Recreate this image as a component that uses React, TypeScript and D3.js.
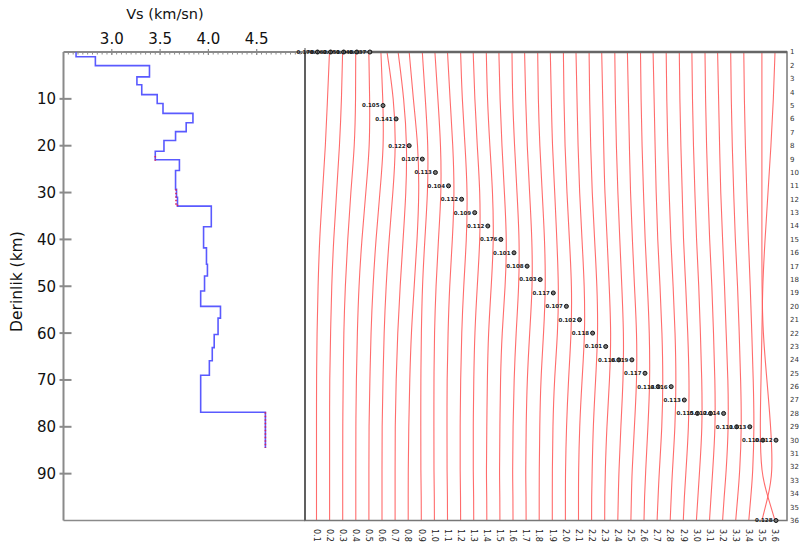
import React from 'react';
import * as d3 from 'd3';

// ---------- Left panel: Vs profile ----------
const VS_TICKS = [3.0, 3.5, 4.0, 4.5];
const VS_TICK_LABELS = ['3.0', '3.5', '4.0', '4.5'];
const DEPTH_TICKS = [10, 20, 30, 40, 50, 60, 70, 80, 90];
const DEPTH_TICK_LABELS = ['10', '20', '30', '40', '50', '60', '70', '80', '90'];

const LAYER_TOP = [0, 1.0, 2.9, 5.3, 7.0, 9.1, 11.0, 13.1, 15.1, 17.0, 18.9, 21.2, 23.0, 25.3, 29.3, 31.0, 32.9, 37.3, 41.8, 45.3, 47.8, 51.0, 54.3, 56.8, 60.3, 63.1, 65.9, 69.0, 76.9];
const LAYER_VS = [2.63, 2.83, 3.39, 3.26, 3.31, 3.47, 3.53, 3.84, 3.77, 3.66, 3.54, 3.45, 3.70, 3.66, 3.67, 3.68, 4.03, 3.95, 3.98, 3.99, 3.96, 3.92, 4.125, 4.10, 4.06, 4.04, 4.01, 3.92, 4.59];
const PROFILE_BOTTOM = 84.5;

const RED_SEG_TOP = [22.2, 29.3, 32.6, 76.9];
const RED_SEG_BOTTOM = [23.2, 32.9, 33.2, 84.5];
const RED_SEG_VS = [3.45, 3.665, 3.68, 4.59];

// ---------- Right panel: kernels ----------
const KERNEL_DEPTHS = [0, 10, 20, 30, 40, 50, 60, 70, 80, 90, 95, 100];
const KERNELS: number[][] = [
  [13, 11, 9, 6, 3, 1.5, 0.5, 0, 0, 0, 0, 0],
  [13, 12, 10, 7, 4, 2, 1, 0, 0, 0, 0, 0],
  [13, 13, 12, 8, 5, 2.5, 1, 0.5, 0, 0, 0, 0],
  [13, 14, 14, 10, 6, 3, 1.5, 0.5, 0, 0, 0, 0],
  [12, 14, 15, 11, 7, 4, 2, 1, 0, 0, 0, 0],
  [5, 12, 14, 11, 7, 4, 2, 1, 0, 0, 0, 0],
  [3, 9, 12, 11, 8, 5, 2.5, 1, 0, 0, 0, 0],
  [1, 5, 10, 11, 9, 6, 3, 1.5, 0.5, 0, 0, 0],
  [1, 4, 7, 6.5, 3.5, 1, 0, -0.5, -0.5, -0.5, 0, 0],
  [0.5, 3.5, 6.5, 7, 4, 1.5, 0, -0.5, -0.5, -0.5, 0, 0],
  [0, 2.5, 5.5, 7, 5, 2, 0.5, -0.5, -0.5, -0.5, 0, 0],
  [0, 1.5, 4.5, 7, 6, 3, 1, 0, -0.5, -0.5, 0, 0],
  [-0.5, 1, 3.5, 6.5, 6.5, 3.5, 1, 0, -0.5, -0.5, 0, 0],
  [-0.5, 0.5, 3, 6, 7, 4.5, 1.5, 0.5, 0, -0.5, 0, 0],
  [-1, 0, 2, 4.5, 7, 5.5, 2, 0.5, 0, -0.5, 0, 0],
  [-1, -0.5, 1.5, 4, 6.5, 6, 3, 1, 0, -0.5, 0, 0],
  [-1.5, -0.5, 1, 3.5, 6, 6.5, 3.5, 1, 0, -0.5, 0, 0],
  [-1.5, -1, 0.5, 3, 5.5, 6.5, 4.5, 1.5, 0.5, 0, 0, 0],
  [-2, -1, 0, 2.5, 4.5, 6.5, 5.5, 2, 0.5, 0, 0, 0],
  [-2, -1.5, -0.5, 1.5, 4, 6.5, 6, 3, 1, 0, 0, 0],
  [-2.5, -1.5, -0.5, 1, 3.5, 6, 6.5, 3.5, 1, 0, 0, 0],
  [-2.5, -2, -1, 0.5, 3, 5.5, 6.5, 4, 1.5, 0.5, 0, 0],
  [-3, -2, -1, 0, 2.5, 4.5, 6.5, 5, 2, 0.5, 0, 0],
  [-3, -2.5, -1.5, 0, 2, 4, 6, 5.5, 3, 1, 0.5, 0],
  [-3.5, -2.5, -1.5, -0.5, 1.5, 3.5, 6, 6, 3.5, 1, 0.5, 0],
  [-3.5, -3, -2, -0.5, 1, 3.5, 5.5, 6, 4, 1.5, 0.5, 0],
  [-4, -3, -2, -1, 0.5, 3, 5, 6, 5, 2, 1, 0],
  [-4, -3.5, -2.5, -1, 0.5, 3, 5, 6, 5, 2, 1, 0],
  [-4, -3.5, -2.5, -1, 0, 2.5, 4.5, 6, 5.5, 2.5, 1, 0],
  [-4.5, -4, -3, -1.5, 0, 2.5, 4, 5.5, 6, 3, 1.5, 0],
  [-4.5, -4, -3, -1.5, 0, 2.5, 4, 5.5, 6, 3, 1.5, 0],
  [-5, -4, -3, -2, 0, 2, 3.5, 5.5, 6, 3.5, 1.5, 0],
  [-5, -4.5, -3.5, -2, -0.5, 2, 3.5, 5, 6, 4, 2, 0],
  [-5, -4.5, -3.5, -2, -0.5, 1.5, 3, 4.5, 5.5, 4, 2, 0],
  [0, 0, 0, 0, 0, 0, 1, 5, 9, 11, 6, 0],
  [0, -1.5, -4, -7, -10, -12.5, -13, -14, -15, -14, -7, 0],
];

const MARKER_KERNEL = [1, 2, 3, 4, 5, 6, 7, 8, 9, 10, 11, 12, 13, 14, 15, 16, 17, 18, 19, 20, 21, 22, 23, 24, 25, 26, 27, 28, 29, 30, 31, 32, 33, 34, 35, 36, 36];
const MARKER_ROW = [1, 1, 1, 1, 1, 5, 6, 8, 9, 10, 11, 12, 13, 14, 15, 16, 17, 18, 19, 20, 21, 22, 23, 24, 24, 25, 26, 26, 27, 28, 28, 28, 29, 29, 30, 30, 36];
const MARKER_LABEL = ['0.178', '0.162', '0.151', '0.146', '0.137', '0.105', '0.141', '0.122', '0.107', '0.113', '0.104', '0.112', '0.109', '0.112', '0.176', '0.101', '0.108', '0.103', '0.117', '0.107', '0.102', '0.118', '0.101', '0.116', '0.119', '0.117', '0.114', '0.116', '0.113', '0.115', '0.112', '0.114', '0.111', '0.113', '0.110', '0.112', '0.128'];

const ROW_LABELS = ['1', '2', '3', '4', '5', '6', '7', '8', '9', '10', '11', '12', '13', '14', '15', '16', '17', '18', '19', '20', '21', '22', '23', '24', '25', '26', '27', '28', '29', '30', '31', '32', '33', '34', '35', '36'];
const BOTTOM_LABELS = ['0.1', '0.2', '0.3', '0.4', '0.5', '0.6', '0.7', '0.8', '0.9', '1.0', '1.1', '1.2', '1.3', '1.4', '1.5', '1.6', '1.7', '1.8', '1.9', '2.0', '2.1', '2.2', '2.3', '2.4', '2.5', '2.6', '2.7', '2.8', '2.9', '3.0', '3.1', '3.2', '3.3', '3.4', '3.5', '3.6'];

const FONT = 'DejaVu Sans, Verdana, sans-serif';
const FRAME = '#8a8a8a';

export default function App() {
  const vsX = d3.scaleLinear().domain([2.5, 5.0]).range([63.5, 305]);
  const depthY = d3.scaleLinear().domain([0, 100]).range([52, 520.5]);
  const kX = d3.scaleLinear().domain([1, 36]).range([316.5, 775]);
  const amp = d3.scaleLinear().domain([0, 10]).range([0, 10]);
  const nRows = ROW_LABELS.length;
  const rowY = (r: number) => depthY(((r - 1) * 100) / (nRows - 1));

  const profilePts: [number, number][] = LAYER_TOP.map((d, i) => [LAYER_VS[i], d] as [number, number]);
  profilePts.push([LAYER_VS[LAYER_VS.length - 1], PROFILE_BOTTOM]);
  const profileLine = d3
    .line<[number, number]>()
    .x((p) => vsX(p[0]))
    .y((p) => depthY(p[1]))
    .curve(d3.curveStepBefore);

  const minorTicks = d3.range(0, 51).map((i) => 2.5 + i * 0.05);

  const kernelPath = (k: number, vals: number[]) =>
    d3
      .line<number>()
      .x((v) => kX(k) + amp(v))
      .y((_, i) => depthY(KERNEL_DEPTHS[i]))
      .curve(d3.curveBasis)(vals) || '';

  const rx0 = 305, rx1 = 787;
  const top = depthY(0), bottom = depthY(100);

  return (
    <svg width={806} height={556} style={{ position: 'absolute', left: 0, top: 0, background: '#fff' }}>
      <defs>
        <clipPath id="rclip">
          <rect x={rx0 + 1} y={top} width={rx1 - rx0 - 2} height={bottom - top} />
        </clipPath>
      </defs>

      {/* Left panel frame */}
      <line x1={vsX(5.0)} x2={vsX(5.0)} y1={top} y2={bottom} stroke={FRAME} strokeWidth={1.5} />
      <line x1={vsX(2.5)} x2={vsX(5.0)} y1={bottom} y2={bottom} stroke={FRAME} strokeWidth={1.5} />
      <line x1={vsX(2.5)} x2={vsX(2.5)} y1={top} y2={bottom} stroke={FRAME} strokeWidth={2} />
      <line x1={vsX(2.5)} x2={vsX(5.0) + 2} y1={top} y2={top} stroke={FRAME} strokeWidth={2} />
      {minorTicks.map((v, i) => (
        <line key={'mt' + i} x1={vsX(v)} x2={vsX(v)} y1={top} y2={top + 2.5} stroke={FRAME} strokeWidth={1} />
      ))}
      {VS_TICKS.map((v, i) => (
        <g key={'vt' + i}>
          <line x1={vsX(v)} x2={vsX(v)} y1={top - 3} y2={top + 3} stroke={FRAME} strokeWidth={1.2} />
          <text x={vsX(v)} y={44} textAnchor="middle" fontFamily={FONT} fontSize={15} fill="#111">
            {VS_TICK_LABELS[i]}
          </text>
        </g>
      ))}
      <line x1={vsX(5.0)} x2={vsX(5.0)} y1={top - 4} y2={top + 4} stroke={FRAME} strokeWidth={1.5} />
      <text x={vsX(3.55)} y={19} textAnchor="middle" fontFamily={FONT} fontSize={14.5} fill="#111">
        Vs (km/sn)
      </text>
      {DEPTH_TICKS.map((d, i) => (
        <g key={'dt' + i}>
          <line x1={vsX(2.5) - 4} x2={vsX(2.5) + 8} y1={depthY(d)} y2={depthY(d)} stroke={FRAME} strokeWidth={2} />
          <text x={56} y={depthY(d)} dy="0.36em" textAnchor="end" fontFamily={FONT} fontSize={15} fill="#111">
            {DEPTH_TICK_LABELS[i]}
          </text>
        </g>
      ))}
      <text
        transform={`translate(22,${depthY(49)}) rotate(-90)`}
        textAnchor="middle"
        fontFamily={FONT}
        fontSize={15.5}
        fill="#111"
      >
        Derinlik (km)
      </text>

      {/* Vs profile */}
      <path d={profileLine(profilePts) || ''} fill="none" stroke="#5a5aff" strokeWidth={1.6} />
      {RED_SEG_VS.map((v, i) => (
        <line
          key={'rs' + i}
          x1={vsX(v)}
          x2={vsX(v)}
          y1={depthY(RED_SEG_TOP[i])}
          y2={depthY(RED_SEG_BOTTOM[i])}
          stroke="#d8205a"
          strokeWidth={1.6}
          strokeDasharray="1.5,2"
        />
      ))}

      {/* Right panel */}
      <g clipPath="url(#rclip)">
        {KERNELS.map((vals, i) => (
          <path key={'k' + i} d={kernelPath(i + 1, vals)} fill="none" stroke="#ff5c5c" strokeWidth={1.1} opacity={0.9} />
        ))}
      </g>
      <rect x={rx0} y={top} width={rx1 - rx0} height={bottom - top} fill="none" stroke="#777" strokeWidth={1.5} />
      <line x1={rx0} x2={rx1} y1={top} y2={top} stroke="#666" strokeWidth={2.5} />
      <line x1={rx0} x2={rx0} y1={top} y2={bottom} stroke="#555" strokeWidth={1.5} />

      {MARKER_KERNEL.map((k, i) => {
        const cx = kX(k) + 1;
        const cy = rowY(MARKER_ROW[i]);
        return (
          <g key={'m' + i}>
            <text x={cx - 3.5} y={cy} dy="0.35em" textAnchor="end" fontFamily={FONT} fontSize={5.5} fontWeight="bold" fill="#222">
              {MARKER_LABEL[i]}
            </text>
            <circle cx={cx} cy={cy} r={2} fill="#777" stroke="#111" strokeWidth={1} />
          </g>
        );
      })}

      {ROW_LABELS.map((t, i) => (
        <text key={'rl' + i} x={790} y={rowY(i + 1)} dy="0.35em" fontFamily={FONT} fontSize={7} fill="#333">
          {t}
        </text>
      ))}
      {BOTTOM_LABELS.map((t, i) => (
        <text
          key={'bl' + i}
          transform={`translate(${kX(i + 1) - 2.8},${529}) rotate(90)`}
          fontFamily={FONT}
          fontSize={8}
          fill="#222"
        >
          {t}
        </text>
      ))}
    </svg>
  );
}
